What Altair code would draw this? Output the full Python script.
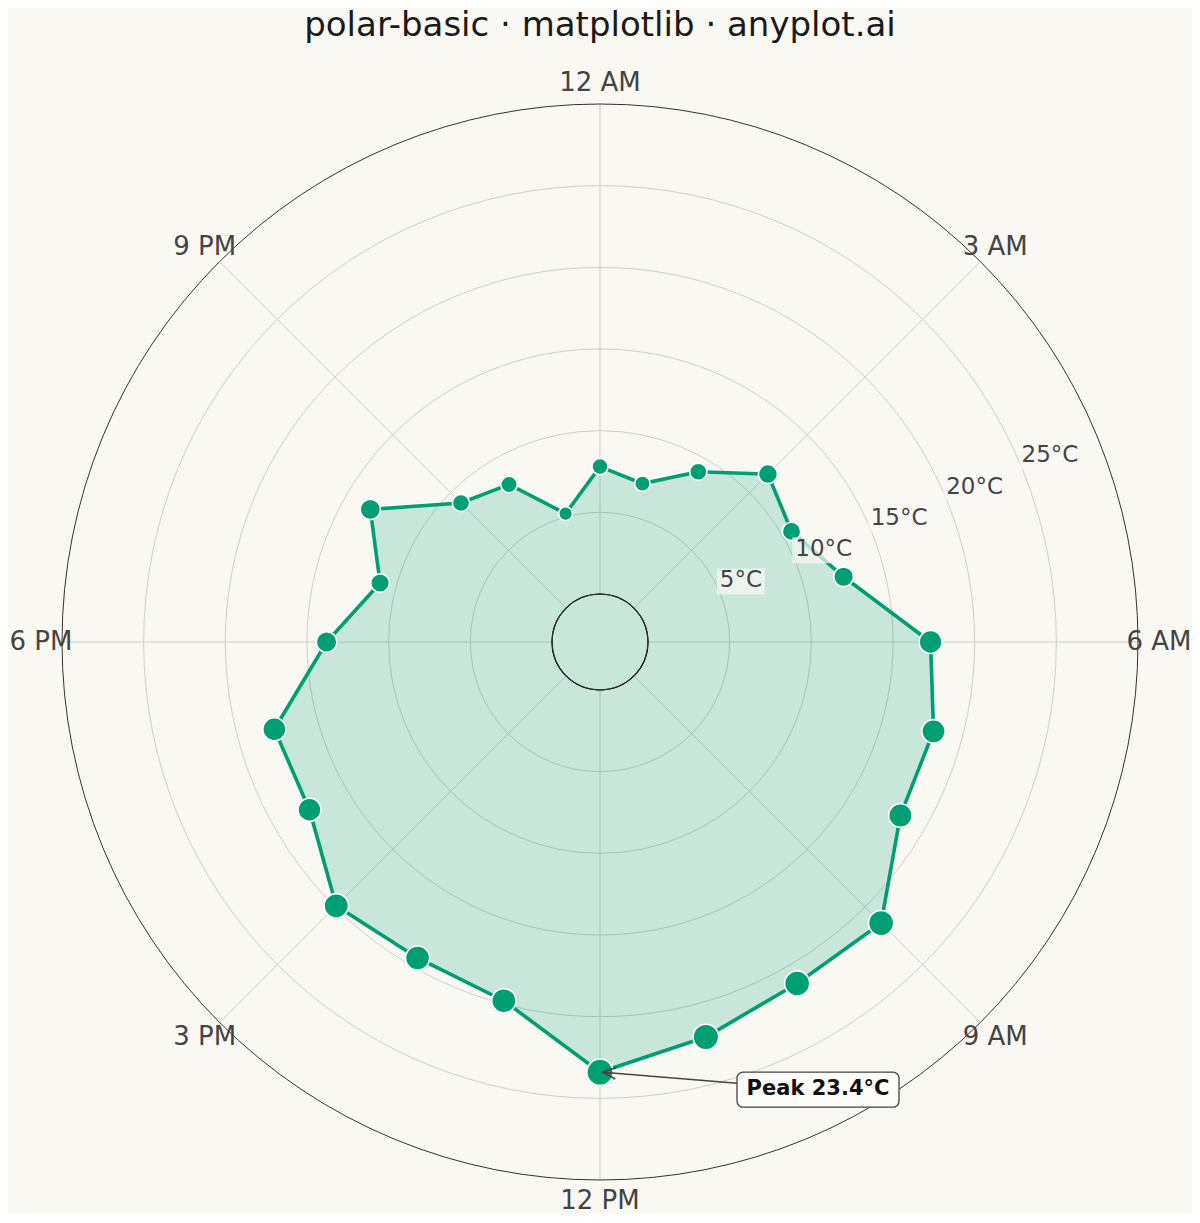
import math
import altair as alt
import pandas as pd

# ---------------- data ----------------
hours = list(range(24))
temps = [7.8, 7.1, 9.1, 11.6, 10.6, 12.5, 17.3, 18.2, 18.3, 21.4, 21.2, 22.1,
         23.4, 19.8, 19.4, 19.9, 17.6, 17.7, 13.8, 11.0, 13.3, 9.1, 8.2, 5.2]
tick_hours = [0, 3, 6, 9, 12, 15, 18, 21]
tick_labels = ["12 AM", "3 AM", "6 AM", "9 AM", "12 PM", "3 PM", "6 PM", "9 PM"]
ring_values = [5, 10, 15, 20, 25]
ring_labels = ["5°C", "10°C", "15°C", "20°C", "25°C"]
r_limit = 30
title_text = "polar-basic · matplotlib · anyplot.ai"

# ---------------- style / layout ----------------
BG = "#FAF8F3"
GREEN = "#009E73"
FONT = "DejaVu Sans"

W, H = 1184, 1205
CX, CY = 592, 634          # pole position inside the view (px)
R0, R1 = 48, 538           # radius (px) of 0 and of r_limit
K = (R1 - R0) / r_limit
LABEL_R = 559              # radius of the hour labels (px)
RLABEL_HOUR = 4.5          # angular position of the radial labels
TITLE_Y = 606              # title baseline, px above the pole

XS = alt.Scale(domain=[-CX, W - CX], nice=False, zero=False)
YS = alt.Scale(domain=[-(H - CY), CY], nice=False, zero=False)
RS = alt.Scale(type="linear", domain=[0, r_limit], range=[R0, R1], nice=False, zero=False)


def X(f):
    return alt.X(f, type="quantitative", scale=XS, axis=None)


def Y(f):
    return alt.Y(f, type="quantitative", scale=YS, axis=None)


def to_xy(chart, r_expr, hour_expr="datum.hour"):
    return chart.transform_calculate(
        a=f"({hour_expr}) * PI / 12",
        rp=r_expr,
        x="datum.rp * sin(datum.a)",
        y="datum.rp * cos(datum.a)",
    )


df = pd.DataFrame({"hour": hours, "temp": temps})
ticks_df = pd.DataFrame({"hour": tick_hours, "label": tick_labels})
rings_df = pd.DataFrame({"r": ring_values, "label": ring_labels})

center_x = alt.value(CX)
center_y = alt.value(CY)
full_theta = dict(theta=alt.value(0), theta2=alt.value(2 * math.pi))


def ring_radius():
    return alt.Radius("r:Q", scale=RS, stack=False)


# grid rings
rings = alt.Chart(rings_df).mark_arc(filled=False, stroke="#CFCFCF", strokeWidth=1).encode(
    x=center_x, y=center_y, radius=ring_radius(), **full_theta
)

# spokes
spokes = alt.Chart(ticks_df).transform_calculate(
    a="datum.hour * PI / 12",
    x1=f"{R0} * sin(datum.a)",
    y1=f"{R0} * cos(datum.a)",
    x2=f"{R1} * sin(datum.a)",
    y2=f"{R1} * cos(datum.a)",
).mark_rule(color="#CFCFCF", strokeWidth=1).encode(
    x=X("x1"), y=Y("y1"), x2="x2:Q", y2="y2:Q"
)

# area + line
base = to_xy(alt.Chart(df), f"{R0} + datum.temp * {K}")
poly = base.mark_line(
    interpolate="linear-closed", fill=GREEN, fillOpacity=0.2,
    stroke=GREEN, strokeWidth=3.6,
).encode(x=X("x"), y=Y("y"), order=alt.Order("hour:Q"))

# center hole
hole = alt.Chart(pd.DataFrame({"r": [0]})).mark_arc(
    fill=BG, stroke="#000000", strokeWidth=1.2
).encode(x=center_x, y=center_y, radius=ring_radius(), **full_theta)

# outer circle
outer = alt.Chart(pd.DataFrame({"r": [r_limit]})).mark_arc(
    filled=False, stroke="#333333", strokeWidth=1
).encode(x=center_x, y=center_y, radius=ring_radius(), **full_theta)

# points
points = base.mark_circle(color=GREEN, opacity=1, stroke="white", strokeWidth=1.6).encode(
    x=X("x"), y=Y("y"),
    size=alt.Size("temp:Q", scale=alt.Scale(domain=[min(temps), max(temps)], range=[190, 690]),
                  legend=None),
)

# radial labels
rl_base = to_xy(alt.Chart(rings_df), f"{R0} + datum.r * {K}", str(RLABEL_HOUR))
rl_boxes = rl_base.transform_calculate(
    bx1="datum.x - 3",
    bx2="datum.x + 9 + 12 * length(datum.label)",
    by1="datum.y - 2",
    by2="datum.y + 24",
).mark_rect(fill=BG, opacity=0.7).encode(x=X("bx1"), x2="bx2:Q", y=Y("by1"), y2="by2:Q")
rl_text = rl_base.mark_text(
    align="left", baseline="middle", dy=-12, fontSize=23, font=FONT, color="#444444"
).encode(x=X("x"), y=Y("y"), text="label:N")

# hour labels
hour_text = to_xy(alt.Chart(ticks_df), str(LABEL_R)).mark_text(
    align="center", baseline="middle", fontSize=26, font=FONT, color="#444444"
).encode(x=X("x"), y=Y("y"), text="label:N")

# peak annotation
peak_i = temps.index(max(temps))
ann_df = pd.DataFrame({"hour": [hours[peak_i]], "temp": [temps[peak_i]],
                       "label": [f"Peak {temps[peak_i]}°C"]})
ann = to_xy(alt.Chart(ann_df), f"{R0} + datum.temp * {K}").transform_calculate(
    bx1="datum.x + 137", bx2="datum.x + 299",
    by1="datum.y", by2="datum.y - 35",
    tx="datum.x + 218", ty="datum.y - 17",
    ax1="datum.x + 137", ay1="datum.y - 11",
    ax2="datum.x + 3", ay2="datum.y",
)
head_angle = math.degrees(math.atan2(-11, 3 - 137)) % 360
ann_line = ann.mark_rule(color="#444444", strokeWidth=1.6).encode(
    x=X("ax1"), y=Y("ay1"), x2="ax2:Q", y2="ay2:Q"
)
ann_head = ann.mark_point(
    shape="M -1 -0.45 L 0 0 L -1 0.45", filled=False, stroke="#444444",
    strokeWidth=1.6, size=650, angle=head_angle, opacity=1,
).encode(x=X("ax2"), y=Y("ay2"))
ann_box = ann.mark_rect(
    fill="#FDFCF9", stroke="#444444", strokeWidth=1.3, cornerRadius=6
).encode(x=X("bx1"), x2="bx2:Q", y=Y("by1"), y2="by2:Q")
ann_text = ann.mark_text(
    align="center", baseline="middle", fontSize=21, fontWeight="bold", font=FONT, color="#111111"
).encode(x=X("tx"), y=Y("ty"), text="label:N")

# title
title = alt.Chart(pd.DataFrame({"t": [title_text]})).transform_calculate(
    tx="0", ty=str(TITLE_Y)
).mark_text(
    align="center", baseline="alphabetic", fontSize=34, font=FONT, color="#1A1A1A"
).encode(x=X("tx"), y=Y("ty"), text="t:N")

chart = alt.layer(
    rings, spokes, poly, hole, outer, points, rl_boxes, rl_text, hour_text,
    ann_line, ann_head, ann_box, ann_text, title,
).properties(
    width=W, height=H,
    padding={"left": 0, "top": 0, "right": 0, "bottom": 0},
    autosize=alt.AutoSizeParams(type="none"),
).configure(background=BG).configure_view(stroke=None)

chart.save("out.html", embed_options={"renderer": "svg", "actions": False})
